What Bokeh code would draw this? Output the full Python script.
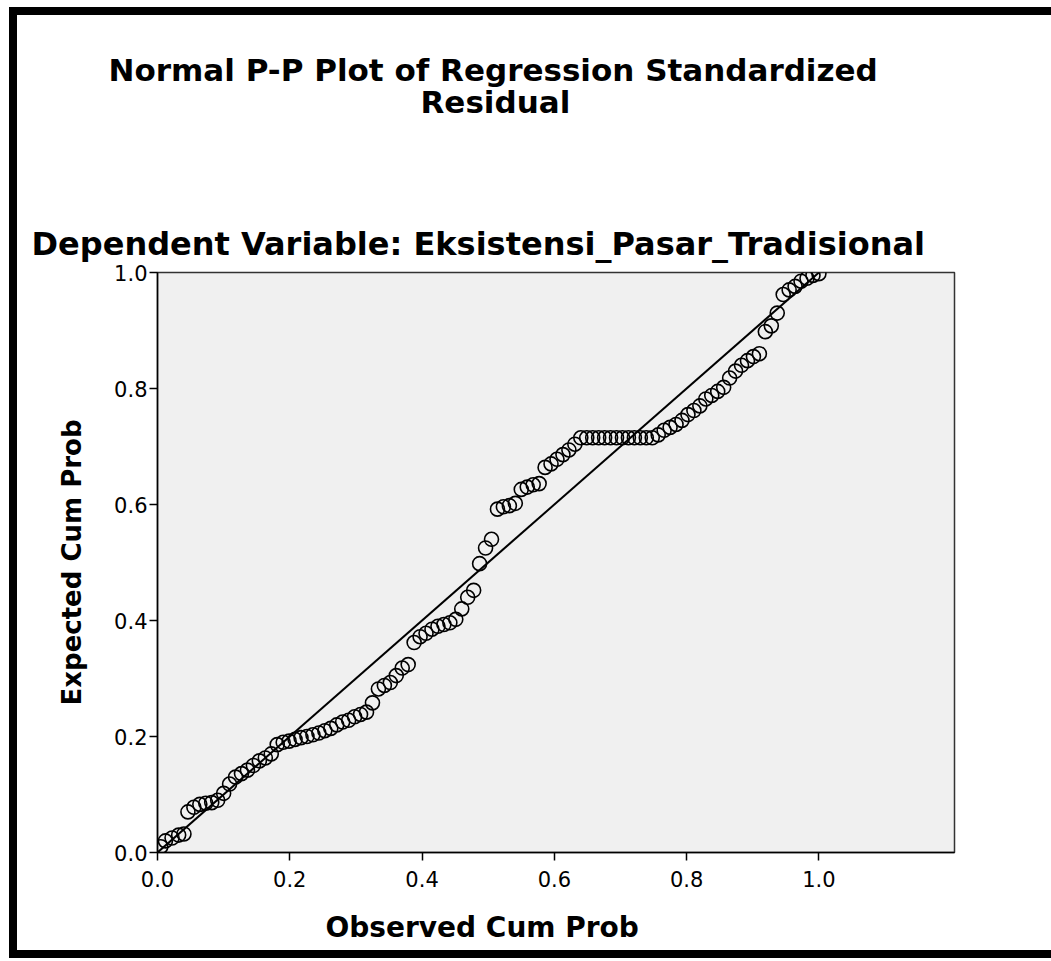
from bokeh.plotting import figure
from bokeh.models import Range1d, FixedTicker, PrintfTickFormatter, Title, LinearAxis
from bokeh.embed import file_html
from bokeh.resources import INLINE

# Observed cumulative probability (x) and expected cumulative probability (y)
observed = [0.005, 0.012, 0.022, 0.032, 0.040, 0.046, 0.055, 0.064, 0.073, 0.082,
            0.091, 0.100, 0.109, 0.118, 0.127, 0.136, 0.145, 0.154, 0.163, 0.172,
            0.181, 0.190, 0.199, 0.208, 0.217, 0.226, 0.235, 0.244, 0.253, 0.262,
            0.271, 0.280, 0.289, 0.298, 0.307, 0.316, 0.325, 0.334, 0.343, 0.352,
            0.361, 0.370, 0.379, 0.388, 0.397, 0.406, 0.415, 0.424, 0.433, 0.442,
            0.451, 0.460, 0.469, 0.478, 0.487, 0.496, 0.505, 0.514, 0.523, 0.532,
            0.541, 0.550, 0.559, 0.568, 0.577, 0.586, 0.595, 0.604, 0.613, 0.622,
            0.631, 0.640, 0.649, 0.658, 0.667, 0.676, 0.685, 0.694, 0.703, 0.712,
            0.721, 0.730, 0.739, 0.748, 0.757, 0.766, 0.775, 0.784, 0.793, 0.802,
            0.811, 0.820, 0.829, 0.838, 0.847, 0.856, 0.865, 0.874, 0.883, 0.892,
            0.901, 0.910, 0.919, 0.928, 0.937, 0.946, 0.955, 0.964, 0.973, 0.982,
            0.991, 1.000]
expected = [0.010, 0.020, 0.025, 0.030, 0.032, 0.070, 0.078, 0.083, 0.085, 0.086,
            0.090, 0.102, 0.118, 0.130, 0.136, 0.142, 0.150, 0.158, 0.163, 0.170,
            0.186, 0.190, 0.192, 0.195, 0.198, 0.200, 0.203, 0.206, 0.210, 0.214,
            0.220, 0.225, 0.228, 0.234, 0.238, 0.242, 0.258, 0.282, 0.288, 0.293,
            0.305, 0.318, 0.324, 0.362, 0.372, 0.378, 0.385, 0.390, 0.393, 0.396,
            0.402, 0.420, 0.440, 0.452, 0.498, 0.525, 0.540, 0.592, 0.596, 0.598,
            0.602, 0.626, 0.630, 0.634, 0.636, 0.664, 0.670, 0.678, 0.686, 0.694,
            0.704, 0.715, 0.715, 0.715, 0.715, 0.715, 0.715, 0.715, 0.715, 0.715,
            0.715, 0.715, 0.715, 0.715, 0.720, 0.728, 0.733, 0.738, 0.745, 0.755,
            0.762, 0.770, 0.782, 0.788, 0.795, 0.802, 0.818, 0.830, 0.840, 0.848,
            0.855, 0.860, 0.898, 0.908, 0.930, 0.962, 0.970, 0.976, 0.985, 0.990,
            0.995, 0.998]

ref_line = [0.0, 1.0]
ticks = [0.0, 0.2, 0.4, 0.6, 0.8, 1.0]

title_1 = "Normal P-P Plot of Regression Standardized"
title_2 = "Residual"
title_3 = "Dependent Variable: Eksistensi_Pasar_Tradisional"
x_title = "Observed Cum Prob"
y_title = "Expected Cum Prob"

FONT = "DejaVu Sans"

p = figure(width=1034, height=935, output_backend="svg", toolbar_location=None,
           x_range=Range1d(0, 1.205), y_range=Range1d(0, 1.0),
           min_border_left=140, min_border_right=97, min_border_top=257,
           min_border_bottom=98)
p.styles = {"margin-top": "15px", "margin-left": "17px", "margin-right": "-16px",
            "box-shadow": ("-8px 0 0 0 black, 0 -8px 0 0 black, 0 8px 0 0 black, "
                           "-8px -8px 0 0 black, -8px 8px 0 0 black")}

p.background_fill_color = "#f0f0f0"
p.border_fill_color = "white"
p.outline_line_color = "#333333"
p.outline_line_width = 1.5
p.xgrid.visible = False
p.ygrid.visible = False

for ax in (p.xaxis[0], p.yaxis[0]):
    ax.ticker = FixedTicker(ticks=ticks)
    ax.formatter = PrintfTickFormatter(format="%.1f")
    ax.axis_line_color = "black"
    ax.axis_line_width = 1.5
    ax.major_tick_line_color = "black"
    ax.major_tick_line_width = 1.5
    ax.major_tick_out = 8
    ax.major_tick_in = 0
    ax.minor_tick_line_color = None
    ax.major_label_text_font = FONT
    ax.major_label_text_font_size = "21px"
    ax.major_label_text_color = "black"

p.xaxis[0].major_label_standoff = 10
p.yaxis[0].major_label_standoff = 2
p.yaxis[0].axis_label = y_title
p.yaxis[0].axis_label_text_font = FONT
p.yaxis[0].axis_label_text_font_style = "bold"
p.yaxis[0].axis_label_text_font_size = "26px"
p.yaxis[0].axis_label_text_color = "black"
p.yaxis[0].axis_label_standoff = 24

p.line(ref_line, ref_line, line_color="black", line_width=2)
p.scatter(observed, expected, marker="circle", size=14, fill_color=None,
          line_color="black", line_width=1.6)


def spacer(size):
    # invisible axis used only to open a gap between stacked titles
    return LinearAxis(ticker=FixedTicker(ticks=[1.1]), axis_line_color=None,
                      major_tick_line_color="white", minor_tick_line_color=None,
                      major_tick_out=size, major_tick_in=0, major_label_standoff=0,
                      major_label_overrides={1.1: ""}, major_label_text_font_size="1px")


# above: first added is nearest the frame; p.title is outermost
p.add_layout(Title(text=title_3, text_font=FONT, text_font_style="bold",
                   text_font_size="32px", text_color="black", align="left",
                   offset=-126, standoff=20, vertical_align="bottom"), "above")
p.add_layout(spacer(93), "above")
p.add_layout(Title(text=title_2, text_font=FONT, text_font_style="bold",
                   text_font_size="31px", text_color="black", align="left",
                   offset=263, standoff=0, vertical_align="bottom"), "above")
p.title.text = title_1
p.title.text_font = FONT
p.title.text_font_style = "bold"
p.title.text_font_size = "31px"
p.title.text_color = "black"
p.title.align = "left"
p.title.offset = -49
p.title.vertical_align = "bottom"
try:
    p.title.standoff = -12
except Exception:
    p.title.standoff = 0

# below: axis, gap, axis title
p.add_layout(spacer(19), "below")
p.add_layout(Title(text=x_title, text_font=FONT, text_font_style="bold",
                   text_font_size="28px", text_color="black", align="left",
                   offset=168, standoff=0, vertical_align="bottom"), "below")

open("out.html", "w").write(file_html(p, INLINE))
